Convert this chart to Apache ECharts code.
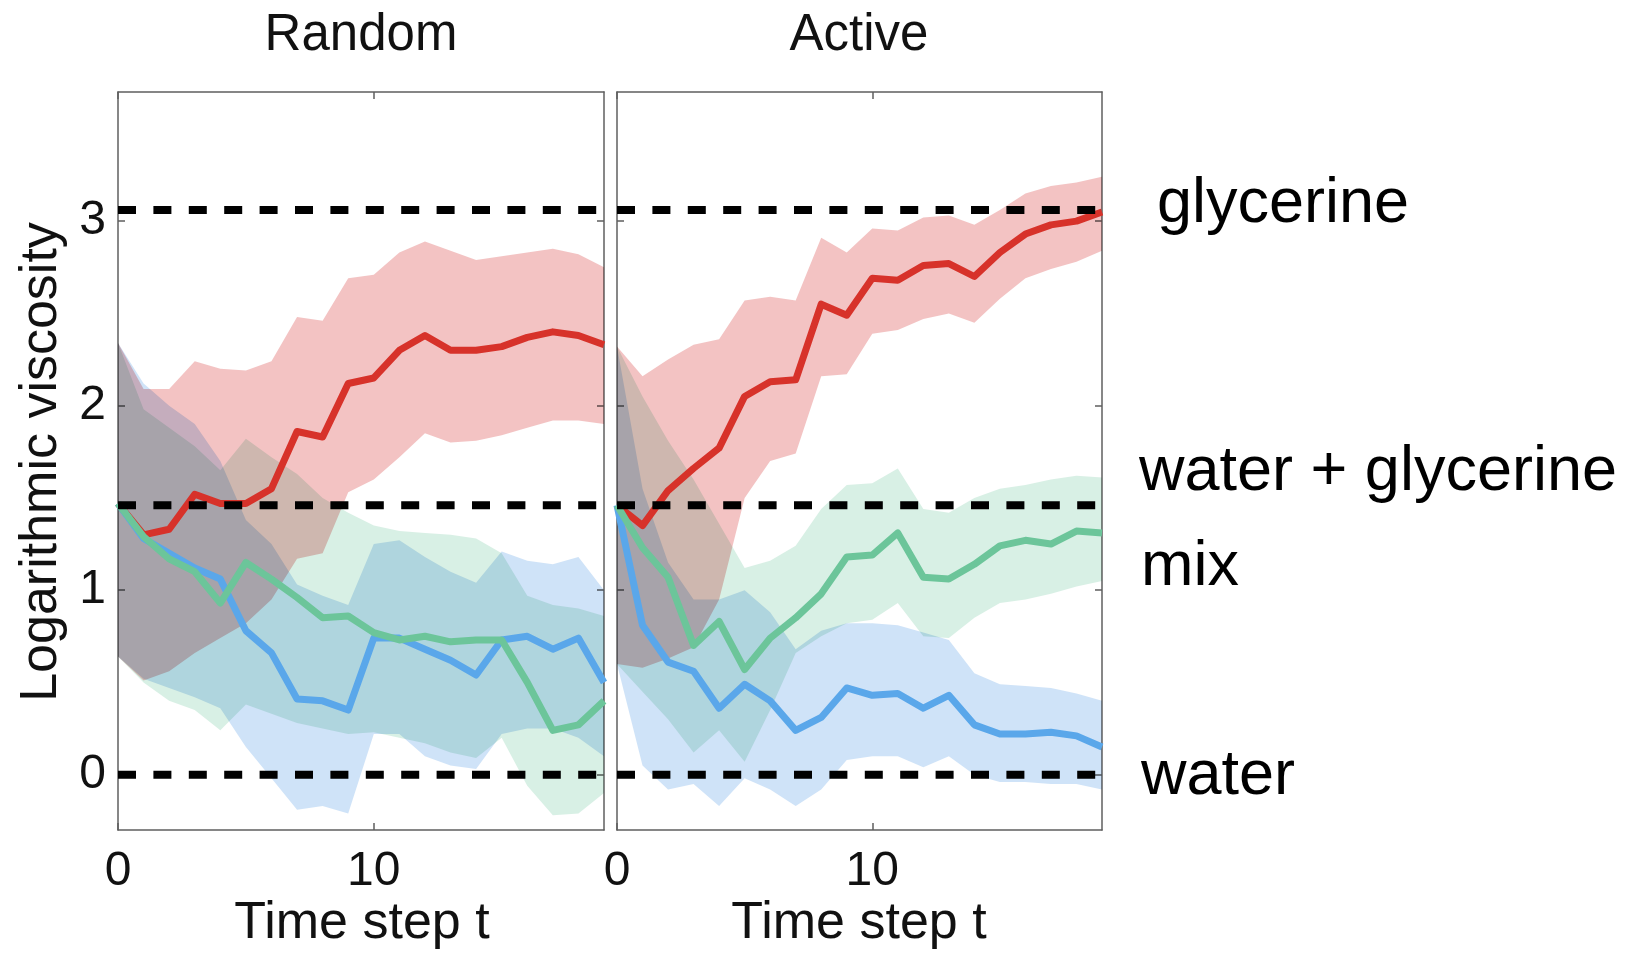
<!DOCTYPE html>
<html>
<head>
<meta charset="utf-8">
<script src="https://cdn.jsdelivr.net/npm/echarts@6/dist/echarts.min.js"></script>
<style>
html,body{margin:0;padding:0;background:#fff;}
#main{width:1642px;height:953px;}
</style>
</head>
<body>
<div id="main"></div>
<script>
// ---------- data ----------
const timeSteps = [0,1,2,3,4,5,6,7,8,9,10,11,12,13,14,15,16,17,18,19];
const xTickValues = [0, 10];
const yTickValues = [0, 1, 2, 3];
const panelTitles = ['Random', 'Active'];
const xAxisTitle = 'Time step t';
const yAxisTitle = 'Logarithmic viscosity';
const refLevels = [0, 1.46, 3.06];
const levelLabels = ['glycerine', 'water + glycerine', 'mix', 'water'];

// Random panel
const randRedMean   = [1.47,1.30,1.33,1.52,1.47,1.47,1.55,1.86,1.83,2.12,2.15,2.30,2.38,2.30,2.30,2.32,2.37,2.40,2.38,2.33];
const randRedUpper  = [2.34,2.09,2.09,2.24,2.20,2.19,2.24,2.48,2.46,2.69,2.71,2.83,2.89,2.84,2.79,2.81,2.83,2.85,2.82,2.75];
const randRedLower  = [0.64,0.51,0.56,0.66,0.74,0.82,0.95,1.17,1.20,1.53,1.60,1.72,1.85,1.80,1.81,1.84,1.88,1.92,1.92,1.90];
const randGreenMean = [1.47,1.29,1.17,1.10,0.93,1.15,1.06,0.96,0.85,0.86,0.77,0.73,0.75,0.72,0.73,0.73,0.50,0.24,0.27,0.40];
const randGreenUpper= [2.34,1.98,1.88,1.78,1.65,1.82,1.72,1.63,1.50,1.42,1.35,1.32,1.31,1.30,1.28,1.20,0.97,0.92,0.90,0.86];
const randGreenLower= [0.64,0.50,0.40,0.35,0.24,0.38,0.33,0.28,0.25,0.22,0.23,0.20,0.17,0.12,0.09,0.20,-0.06,-0.22,-0.21,-0.10];
const randBlueMean  = [1.47,1.28,1.20,1.12,1.06,0.78,0.66,0.41,0.40,0.35,0.74,0.74,0.68,0.62,0.54,0.73,0.75,0.68,0.74,0.50];
const randBlueUpper = [2.34,2.12,2.00,1.90,1.70,1.38,1.25,1.03,0.97,0.92,1.25,1.27,1.18,1.10,1.04,1.21,1.16,1.14,1.18,1.00];
const randBlueLower = [0.64,0.52,0.47,0.42,0.36,0.15,-0.02,-0.19,-0.17,-0.21,0.22,0.22,0.10,0.05,0.03,0.22,0.25,0.25,0.20,0.10];

// Active panel
const actRedMean    = [1.46,1.35,1.54,1.66,1.77,2.05,2.13,2.14,2.55,2.49,2.69,2.68,2.76,2.77,2.70,2.83,2.93,2.98,3.00,3.05];
const actRedUpper   = [2.32,2.16,2.25,2.33,2.36,2.57,2.59,2.57,2.91,2.83,2.96,2.95,3.02,3.03,2.98,3.06,3.15,3.19,3.21,3.24];
const actRedLower   = [0.60,0.58,0.63,0.69,0.95,1.50,1.70,1.74,2.16,2.17,2.39,2.41,2.47,2.50,2.45,2.58,2.69,2.74,2.78,2.84];
const actGreenMean  = [1.46,1.23,1.07,0.70,0.83,0.57,0.74,0.85,0.98,1.18,1.19,1.31,1.07,1.06,1.14,1.24,1.27,1.25,1.32,1.31];
const actGreenUpper = [2.32,2.05,1.81,1.60,1.36,1.12,1.16,1.24,1.44,1.57,1.58,1.66,1.44,1.42,1.50,1.55,1.57,1.60,1.62,1.61];
const actGreenLower = [0.60,0.45,0.30,0.12,0.24,0.07,0.35,0.66,0.75,0.82,0.84,0.93,0.75,0.74,0.85,0.93,0.95,0.98,1.02,1.05];
const actBlueMean   = [1.46,0.81,0.61,0.56,0.36,0.49,0.40,0.24,0.31,0.47,0.43,0.44,0.36,0.43,0.27,0.22,0.22,0.23,0.21,0.15];
const actBlueUpper  = [2.32,1.55,1.15,0.95,0.95,1.00,0.88,0.68,0.78,0.82,0.82,0.81,0.77,0.73,0.55,0.49,0.48,0.47,0.44,0.40];
const actBlueLower  = [0.60,0.05,-0.08,-0.05,-0.17,-0.02,-0.08,-0.17,-0.08,0.08,0.10,0.10,0.04,0.10,0.00,-0.04,-0.04,-0.05,-0.05,-0.08];

// ---------- styling ----------
const FONT = "'Liberation Sans', Arial, Helvetica, sans-serif";
const AXIS_COLOR = '#5f5f5f';
const colors = {
  red:   { line: '#d7322a', band: '#f3c3c3' },
  green: { line: '#6cc59a', band: '#d8f0e5' },
  blue:  { line: '#5aa7ea', band: '#cfe3f8' }
};

const panels = [
  { red: [randRedMean, randRedLower, randRedUpper], green: [randGreenMean, randGreenLower, randGreenUpper], blue: [randBlueMean, randBlueLower, randBlueUpper] },
  { red: [actRedMean, actRedLower, actRedUpper], green: [actGreenMean, actGreenLower, actGreenUpper], blue: [actBlueMean, actBlueLower, actBlueUpper] }
];

const gridLefts = [118, 617];
const gridWidths = [486, 485];

const grids = gridLefts.map((l, i) => ({ left: l, top: 92, width: gridWidths[i], height: 738, containLabel: false }));

const xAxes = [];
const yAxes = [];
gridLefts.forEach((l, p) => {
  ['bottom', 'top'].forEach(pos => {
    xAxes.push({
      type: 'value', gridIndex: p, position: pos, min: 0, max: 19,
      axisLine: { show: true, onZero: false, lineStyle: { color: AXIS_COLOR, width: 1.5 } },
      axisTick: { show: true, inside: true, length: 7, customValues: xTickValues, lineStyle: { color: AXIS_COLOR, width: 1.5 } },
      axisLabel: { show: pos === 'bottom', customValues: xTickValues, fontSize: 48, fontFamily: FONT, color: '#111', margin: 18 },
      splitLine: { show: false }
    });
  });
  ['left', 'right'].forEach(pos => {
    yAxes.push({
      type: 'value', gridIndex: p, position: pos, min: -0.3, max: 3.7,
      axisLine: { show: true, onZero: false, lineStyle: { color: AXIS_COLOR, width: 1.5 } },
      axisTick: { show: true, inside: true, length: 7, customValues: yTickValues, lineStyle: { color: AXIS_COLOR, width: 1.5 } },
      axisLabel: { show: p === 0 && pos === 'left', customValues: yTickValues, fontSize: 48, fontFamily: FONT, color: '#111', margin: 12 },
      splitLine: { show: false }
    });
  });
});

function bandRenderer(lower, upper, fill) {
  return function (params, api) {
    const pts = [];
    for (let i = 0; i < timeSteps.length; i++) pts.push(api.coord([timeSteps[i], upper[i]]));
    for (let i = timeSteps.length - 1; i >= 0; i--) pts.push(api.coord([timeSteps[i], lower[i]]));
    return { type: 'polygon', name: 'band', shape: { points: pts }, style: { fill: fill, blend: 'multiply' } };
  };
}

const series = [];
panels.forEach((panel, p) => {
  const xi = p * 2, yi = p * 2;
  ['red', 'green', 'blue'].forEach(c => {
    const [mean, lower, upper] = panel[c];
    series.push({
      type: 'custom', xAxisIndex: xi, yAxisIndex: yi, silent: true, z: 2,
      data: [[timeSteps[0], lower[0]]],
      encode: { x: 0, y: 1 },
      renderItem: bandRenderer(lower, upper, colors[c].band)
    });
  });
  const lineZ = { red: 3, blue: 4, green: 5 };
  ['red', 'blue', 'green'].forEach(c => {
    const mean = panel[c][0];
    series.push({
      type: 'line', xAxisIndex: xi, yAxisIndex: yi, silent: true, z: lineZ[c],
      showSymbol: false, symbol: 'none',
      data: timeSteps.map((t, i) => [t, mean[i]]),
      lineStyle: { color: colors[c].line, width: 7, join: 'round' }
    });
  });
  refLevels.forEach(lv => {
    series.push({
      type: 'line', xAxisIndex: xi, yAxisIndex: yi, silent: true, z: 6,
      showSymbol: false, symbol: 'none',
      data: [[timeSteps[0], lv], [timeSteps[timeSteps.length - 1], lv]],
      lineStyle: { color: '#000', width: 8, type: [18, 17.4], cap: 'butt', dashOffset: 0 }
    });
  });
});

function txt(text, x, y, size, opts) {
  return Object.assign({
    type: 'text', x: x, y: y, silent: true,
    style: { text: text, font: size + 'px ' + FONT, fill: '#111', textAlign: 'center', textVerticalAlign: 'middle', verticalAlign: 'middle' }
  }, opts || {});
}

const graphics = [
  txt(panelTitles[0], 361, 36, 51),
  txt(panelTitles[1], 859, 36, 51),
  txt(xAxisTitle, 362, 924, 52),
  txt(xAxisTitle, 859, 924, 52),
  txt(yAxisTitle, 42, 462, 52, { rotation: Math.PI / 2 }),
];
const labelPos = [[1157, 205], [1139, 473], [1141, 568], [1141, 777]];
levelLabels.forEach((s, i) => {
  const g = txt(s, labelPos[i][0], labelPos[i][1], 63);
  g.style.textAlign = 'left';
  g.style.fill = '#000';
  graphics.push(g);
});

const chart = echarts.init(document.getElementById('main'), null, { renderer: 'canvas' });
chart.setOption({
  backgroundColor: '#ffffff',
  animation: false,
  grid: grids,
  xAxis: xAxes,
  yAxis: yAxes,
  series: series,
  graphic: graphics
});

// make the confidence bands combine multiplicatively, like the original figure
function applyBlend() {
  const zr = chart.getZr();
  let changed = false;
  zr.storage.getDisplayList(true).forEach(el => {
    if (el.name === 'band' && el.style && el.style.blend !== 'multiply') {
      el.style.blend = 'multiply';
      el.markRedraw();
      changed = true;
    }
  });
  if (changed) zr.refreshImmediately();
}
applyBlend();
chart.on('finished', applyBlend);
</script>
</body>
</html>
